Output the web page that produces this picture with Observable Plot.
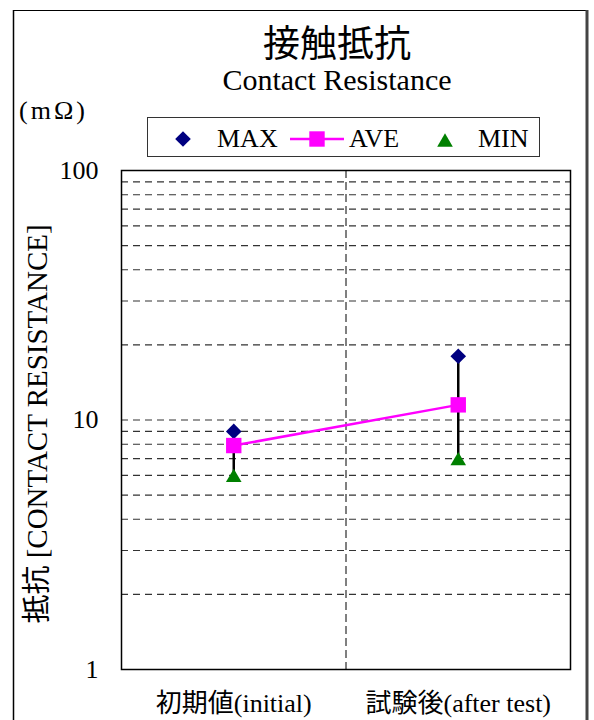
<!DOCTYPE html>
<html>
<head>
<meta charset="utf-8">
<script src="https://cdn.jsdelivr.net/npm/d3@7"></script>
<script src="https://cdn.jsdelivr.net/npm/@observablehq/plot@0.6"></script>
<style>
  html, body { margin: 0; padding: 0; background: #fff; }
  #wrap { position: relative; width: 594px; height: 720px; overflow: hidden; }
  #wrap > svg { position: absolute; left: 0; top: 0; }
  #wrap text { font-family: 'Liberation Serif', 'Noto Sans CJK JP', serif; }
  #overlay { pointer-events: none; }
</style>
</head>
<body>
<div id="wrap"></div>
<script>
// ---- data ----
const categories = ["初期値(initial)", "試験後(after test)"];
const maxValues = [9.0, 18.0];
const aveValues = [7.9, 11.5];
const minValues = [6.0, 7.0];
const yTicks = [1, 10, 100];
const gridValues = [2, 3, 4, 5, 6, 7, 8, 9, 10, 20, 30, 40, 50, 60, 70, 80, 90];
const seriesNames = ["MAX", "AVE", "MIN"];
const titleText = "接触抵抗";
const subtitleText = "Contact Resistance";
const unitText = "(mΩ)";
const yLabelText = "抵抗 [CONTACT RESISTANCE]";

const FONT = "'Liberation Serif', 'Noto Sans CJK JP', serif";
const C_MAX = "#000080", C_AVE = "#ff00ff", C_MIN = "#008000";

const data = categories.map((c, i) => ({
  cat: c, x: i + 0.5, max: maxValues[i], ave: aveValues[i], min: minValues[i]
}));
const dividers = d3.range(1, categories.length);

// custom symbols (r = half size)
const rOf = size => Math.sqrt(size / Math.PI);
const diamondSym = { draw(ctx, size) { const r = rOf(size);
  ctx.moveTo(0, -r); ctx.lineTo(r, 0); ctx.lineTo(0, r); ctx.lineTo(-r, 0); ctx.closePath(); } };
const squareSym = { draw(ctx, size) { const r = rOf(size);
  ctx.rect(-r, -r, 2 * r, 2 * r); } };
const triSym = { draw(ctx, size) { const r = rOf(size);
  ctx.moveTo(0, -0.85 * r); ctx.lineTo(r, 0.85 * r); ctx.lineTo(-r, 0.85 * r); ctx.closePath(); } };

const chart = Plot.plot({
  width: 594,
  height: 720,
  marginTop: 170,
  marginLeft: 121,
  marginRight: 24,
  marginBottom: 51,
  style: { fontFamily: FONT, fontSize: "26px", color: "#000", background: "#fff" },
  x: {
    domain: [0, categories.length],
    ticks: data.map(d => d.x),
    tickFormat: v => categories[Math.floor(v)],
    tickSize: 0,
    tickPadding: 24,
    label: null
  },
  y: {
    type: "log",
    domain: [1, 100],
    ticks: yTicks,
    tickFormat: d => String(d),
    tickSize: 0,
    tickPadding: 23,
    label: null
  },
  marks: [
    Plot.ruleY(gridValues, { stroke: "#333", strokeWidth: 1.1, strokeDasharray: "7,5" }),
    Plot.ruleX(dividers, { stroke: "#000", strokeWidth: 1, strokeDasharray: "8,4" }),
    Plot.frame({ stroke: "#000", strokeWidth: 1.5 }),
    Plot.ruleX(data, { x: "x", y1: "min", y2: "max", stroke: "#000", strokeWidth: 2.5 }),
    Plot.line(data, { x: "x", y: "ave", stroke: C_AVE, strokeWidth: 2.5 }),
    Plot.dot(data, { x: "x", y: "max", symbol: diamondSym, r: 7.8, fill: C_MAX, stroke: "none" }),
    Plot.dot(data, { x: "x", y: "min", symbol: triSym, r: 7.8, fill: C_MIN, stroke: "none" }),
    Plot.dot(data, { x: "x", y: "ave", symbol: squareSym, r: 7.7, fill: C_AVE, stroke: "none" })
  ]
});
document.getElementById("wrap").appendChild(chart);

// ---- overlay: titles, unit, y label, legend, outer border ----
const ov = d3.select("#wrap").append("svg")
  .attr("id", "overlay").attr("width", 594).attr("height", 720)
  .style("font-family", FONT);

ov.append("line").attr("x1", 13.5).attr("x2", 13.5).attr("y1", 10).attr("y2", 720).attr("stroke", "#000").attr("stroke-width", 1.5);
ov.append("line").attr("x1", 13).attr("x2", 587).attr("y1", 10.5).attr("y2", 10.5).attr("stroke", "#000").attr("stroke-width", 1);
ov.append("line").attr("x1", 587).attr("x2", 587).attr("y1", 10).attr("y2", 720).attr("stroke", "#444").attr("stroke-width", 3);

ov.append("text").attr("x", 337).attr("y", 57).attr("text-anchor", "middle")
  .style("font-size", "37px").text(titleText);
ov.append("text").attr("x", 337).attr("y", 90).attr("text-anchor", "middle")
  .style("font-size", "30px").text(subtitleText);
ov.append("text").attr("x", 19).attr("y", 119).style("font-size", "26px")
  .style("letter-spacing", "3px").text(unitText);
ov.append("text").attr("transform", "translate(47,424) rotate(-90)")
  .attr("text-anchor", "middle").style("font-size", "29px").text(yLabelText);

// legend
const lg = ov.append("g");
lg.append("rect").attr("x", 147.5).attr("y", 117.5).attr("width", 392).attr("height", 39)
  .attr("fill", "#fff").attr("stroke", "#333").attr("stroke-width", 1);
const symPath = (sym, r) => d3.symbol().type(sym).size(Math.PI * r * r)();
lg.append("path").attr("transform", "translate(183,139)").attr("d", symPath(diamondSym, 7.8)).attr("fill", C_MAX);
lg.append("text").attr("x", 217).attr("y", 147).style("font-size", "26px").text(seriesNames[0]);
lg.append("line").attr("x1", 290).attr("x2", 344).attr("y1", 139).attr("y2", 139).attr("stroke", C_AVE).attr("stroke-width", 2.5);
lg.append("path").attr("transform", "translate(317,139)").attr("d", symPath(squareSym, 7.7)).attr("fill", C_AVE);
lg.append("text").attr("x", 349).attr("y", 147).style("font-size", "26px").text(seriesNames[1]);
lg.append("path").attr("transform", "translate(445,140)").attr("d", symPath(triSym, 7.8)).attr("fill", C_MIN);
lg.append("text").attr("x", 478).attr("y", 147).style("font-size", "26px").text(seriesNames[2]);
</script>
</body>
</html>
